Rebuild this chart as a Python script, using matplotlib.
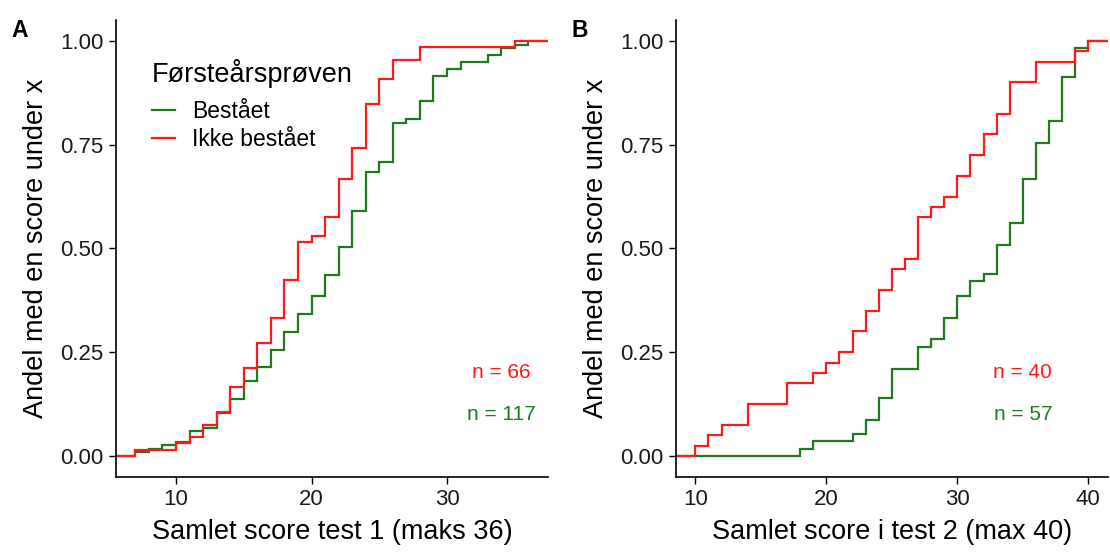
import matplotlib
matplotlib.use("Agg")
import matplotlib.pyplot as plt
import numpy as np
from matplotlib.lines import Line2D

plt.rcParams['font.family'] = ['Liberation Sans', 'DejaVu Sans']

RED = "#ff1a1a"
GREEN = "#1f7a1f"

# --- Test 1: score and number of students at that score ---
t1_pass_scores = [7, 8, 9, 10, 11, 12, 13, 14, 15, 16, 17, 18, 19, 20, 21, 22, 23, 24, 25,
                  26, 27, 28, 29, 30, 31, 33, 34, 35, 36]
t1_pass_counts = [1, 1, 1, 1, 3, 1, 4, 4, 5, 4, 5, 5, 5, 5, 6, 8, 10, 11, 3,
                  11, 1, 5, 7, 2, 2, 2, 2, 1, 1]
t1_fail_scores = [7, 10, 11, 12, 13, 14, 15, 16, 17, 18, 19, 20, 21, 22, 23, 24, 25, 26, 28, 35]
t1_fail_counts = [1, 1, 1, 2, 2, 4, 3, 4, 4, 6, 6, 1, 3, 6, 5, 7, 4, 3, 2, 1]

# --- Test 2 ---
t2_pass_scores = [18, 19, 22, 23, 24, 25, 27, 28, 29, 30, 31, 32, 33, 34, 35, 36, 37, 38, 39, 40]
t2_pass_counts = [1, 1, 1, 2, 3, 4, 3, 1, 3, 3, 2, 1, 4, 3, 6, 5, 3, 6, 4, 1]
t2_fail_scores = [10, 11, 12, 14, 17, 19, 20, 21, 22, 23, 24, 25, 26, 27, 28, 29, 30, 31,
                  32, 33, 34, 36, 39, 40]
t2_fail_counts = [1, 1, 1, 2, 2, 1, 1, 1, 2, 2, 2, 2, 1, 4, 1, 1, 2, 2,
                  2, 2, 3, 2, 1, 1]

legend_title = "Førsteårsprøven"
group_labels = ["Bestået", "Ikke bestået"]

W, H = 1110, 552
fig = plt.figure(figsize=(W / 100, H / 100), dpi=100)


def ecdf_steps(ax, scores, counts, color, lo, hi):
    counts = np.asarray(counts)
    cum = np.cumsum(counts) / counts.sum()
    x = np.concatenate([[lo], scores, [hi]])
    y = np.concatenate([[0], cum, [1]])
    ax.step(x, y, where="post", color=color, lw=1.6, solid_joinstyle="miter")


def panel(left_px, right_px, data, xlim, xticks, xlabel, letter, nlabel_x):
    ax = fig.add_axes([left_px / W, (H - 476.7) / H,
                       (right_px - left_px) / W, (476.7 - 20.25) / H])
    for scores, counts, col in data:
        ecdf_steps(ax, scores, counts, col, xlim[0] - 5, xlim[1] + 5)
    ax.set_xlim(*xlim)
    ax.set_ylim(-0.05, 1.05)
    ax.set_xticks(xticks)
    ax.set_yticks([0, 0.25, 0.5, 0.75, 1.0])
    ax.set_yticklabels(["0.00", "0.25", "0.50", "0.75", "1.00"])
    for s in ["top", "right"]:
        ax.spines[s].set_visible(False)
    for s in ["left", "bottom"]:
        ax.spines[s].set_linewidth(1.2)
    ax.tick_params(length=5, width=1.0, labelsize=16, labelcolor="#1a1a1a")
    ax.tick_params(axis="y", pad=4)
    ax.tick_params(axis="x", pad=4)
    ax.set_xlabel(xlabel, fontsize=19.5, labelpad=6)
    ax.set_ylabel("Andel med en score under x", fontsize=19.5, labelpad=8)
    n_fail = sum(data[1][1])
    n_pass = sum(data[0][1])
    ax.text(nlabel_x, 0.2, f"n = {n_fail}", color=RED, fontsize=15, ha="center", va="center")
    ax.text(nlabel_x, 0.1, f"n = {n_pass}", color=GREEN, fontsize=15, ha="center", va="center")
    fig.text((left_px - 104) / W, (H - 37) / H, letter, fontsize=16.5,
             fontweight="bold", ha="left", va="baseline")
    return ax


axA = panel(115.7, 548, [(t1_pass_scores, t1_pass_counts, GREEN),
                         (t1_fail_scores, t1_fail_counts, RED)],
            (5.55, 37.45), [10, 20, 30], "Samlet score test 1 (maks 36)", "A", 34)
axB = panel(675.7, 1108, [(t2_pass_scores, t2_pass_counts, GREEN),
                          (t2_fail_scores, t2_fail_counts, RED)],
            (8.5, 41.5), [10, 20, 30, 40], "Samlet score i test 2 (max 40)", "B", 35)

handles = [Line2D([], [], color=GREEN, lw=1.6), Line2D([], [], color=RED, lw=1.6)]
leg = axA.legend(handles, group_labels, title=legend_title, loc="upper left",
                 bbox_to_anchor=(0.062, 0.935), frameon=False, fontsize=16.5,
                 title_fontsize=19.5, handlelength=1.0, handletextpad=0.75,
                 labelspacing=0.22, borderaxespad=0)
leg._legend_box.align = "left"
leg._legend_box.sep = 8.5  # extra gap between title and entries

fig.savefig("out.png", dpi=100)
